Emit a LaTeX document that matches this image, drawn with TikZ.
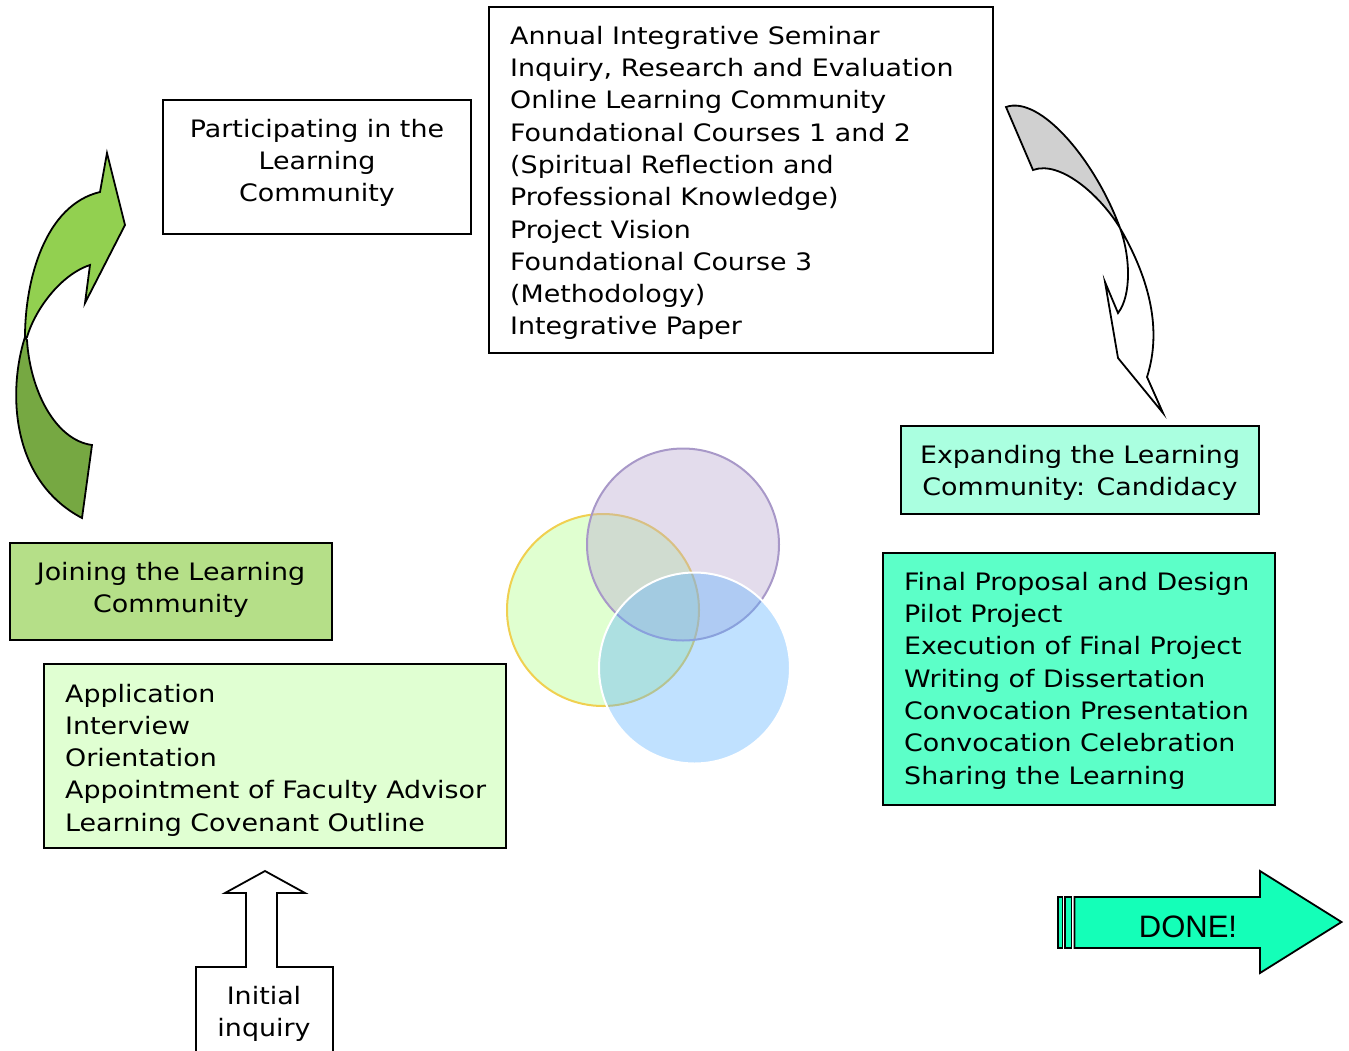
\documentclass[tikz,border=0pt]{standalone}
\usepackage{fontspec}
\setmainfont{DejaVu Sans}[FakeStretch=1.12]
\newfontfamily\arialfont{Liberation Sans}
\begin{document}
\begin{tikzpicture}[x=1pt,y=-1pt,
  box/.style={draw=black, line width=1.8pt, inner sep=0pt},
  txt/.style={font=\fontsize{24}{32.3}\selectfont, inner sep=0pt},
  shapeline/.style={draw=black, line width=1.8pt, line join=miter}]
\definecolor{expandfill}{HTML}{AAFFE0}
\definecolor{finalfill}{HTML}{5CFFC8}
\definecolor{joinfill}{HTML}{B5DF88}
\definecolor{appfill}{HTML}{E0FFD2}
\definecolor{donefill}{HTML}{14FFB8}
\definecolor{arrowlight}{HTML}{92D050}
\definecolor{arrowdark}{HTML}{76A842}
\definecolor{arrowgrey}{HTML}{D0D0D0}
\definecolor{vennyellow}{HTML}{E0FFD0}
\definecolor{vennyellowline}{HTML}{F0D050}
\definecolor{vennpurple}{HTML}{B8A8D0}
\definecolor{vennpurpleline}{HTML}{A898C8}
\definecolor{vennblue}{HTML}{5AB0FF}

\useasboundingbox (0,0) rectangle (1349,1050);

% boxes
\node[box, fill=white, minimum width=308, minimum height=134] (part) at (317,167) {};
\node[txt, align=center] (partT) at (317,163) {Participating in the\\Learning\\Community};

\node[box, fill=white, minimum width=504, minimum height=346] (year) at (741,180) {};
\node[txt, align=left, anchor=west] (yearT) at (510,183) {Annual Integrative Seminar\\Inquiry, Research and Evaluation\\Online Learning Community\\Foundational Courses 1 and 2\\(Spiritual Reflection and\\Professional Knowledge)\\Project Vision\\Foundational Course 3\\(Methodology)\\Integrative Paper};

\node[box, fill=expandfill, minimum width=358, minimum height=88] (expand) at (1080,470) {};
\node[txt, align=center] (expandT) at (1080,473) {Expanding the Learning\\Community: Candidacy};

\node[box, fill=finalfill, minimum width=392, minimum height=252] (final) at (1079,679) {};
\node[txt, align=left, anchor=west] (finalT) at (904,680.5) {Final Proposal and Design\\Pilot Project\\Execution of Final Project\\Writing of Dissertation\\Convocation Presentation\\Convocation Celebration\\Sharing the Learning};

\node[box, fill=joinfill, minimum width=322, minimum height=97] (join) at (171,591.5) {};
\node[txt, align=center] (joinT) at (171,590) {Joining the Learning\\Community};

\node[box, fill=appfill, minimum width=462, minimum height=184] (app) at (275,756) {};
\node[txt, align=left, anchor=west] (appT) at (65,760) {Application\\Interview\\Orientation\\Appointment of Faculty Advisor\\Learning Covenant Outline};

% initial inquiry: box with an up arrow on top
\draw[shapeline, fill=white] (196,1056) -- (196,967) -- (246,967) -- (246,893) -- (225,893)
  -- (265,871) -- (305,893) -- (277,893) -- (277,967) -- (333,967) -- (333,1056);
\node[txt, align=center] (initT) at (264,1014) {Initial\\inquiry};

% venn circles
\fill[vennyellow] (603,610) circle (96);
\draw[vennyellowline, line width=2pt] (603,610) circle (96);
\filldraw[fill=vennpurple, fill opacity=0.4, draw=vennpurpleline, line width=2pt] (683,544.5) circle (96);
\filldraw[fill=vennblue, fill opacity=0.38, draw=white, line width=2pt] (694.5,668) circle (95.5);

% green curved arrow (up and right)
\filldraw[shapeline, fill=arrowdark] (25,337) .. controls (8,390) and (10,480) .. (82,518)
  -- (92,445) .. controls (55,440) and (30,390) .. (27,340) -- cycle;
\filldraw[shapeline, fill=arrowlight] (25,337) .. controls (25,280) and (45,205) .. (100,192)
  -- (107,153) -- (125,225) -- (85,303) -- (90,265)
  .. controls (60,275) and (35,310) .. (27,337) -- cycle;

% grey/white curved arrow (down)
\filldraw[shapeline, fill=arrowgrey] (1006,107) .. controls (1040,95) and (1095,160) .. (1120,228)
  .. controls (1100,195) and (1060,160) .. (1033,170) -- cycle;
\filldraw[shapeline, fill=white] (1120,228) .. controls (1130,255) and (1132,295) .. (1118,313)
  -- (1105,282) -- (1118,358) -- (1163,413) -- (1147,377)
  .. controls (1162,330) and (1150,280) .. (1120,228) -- cycle;

% DONE arrow with stripes
\filldraw[shapeline, line width=1.5pt, fill=donefill] (1058,897) rectangle (1062.5,948);
\filldraw[shapeline, line width=1.5pt, fill=donefill] (1065,897) rectangle (1071.5,948);
\filldraw[shapeline, fill=donefill] (1074.5,897) -- (1260,897) -- (1260,871) -- (1341.5,922)
  -- (1260,973) -- (1260,948) -- (1074.5,948) -- cycle;
\node[inner sep=0pt, font=\arialfont\fontsize{31}{36}\selectfont] (done) at (1188,927) {DONE!};
\end{tikzpicture}
\end{document}
